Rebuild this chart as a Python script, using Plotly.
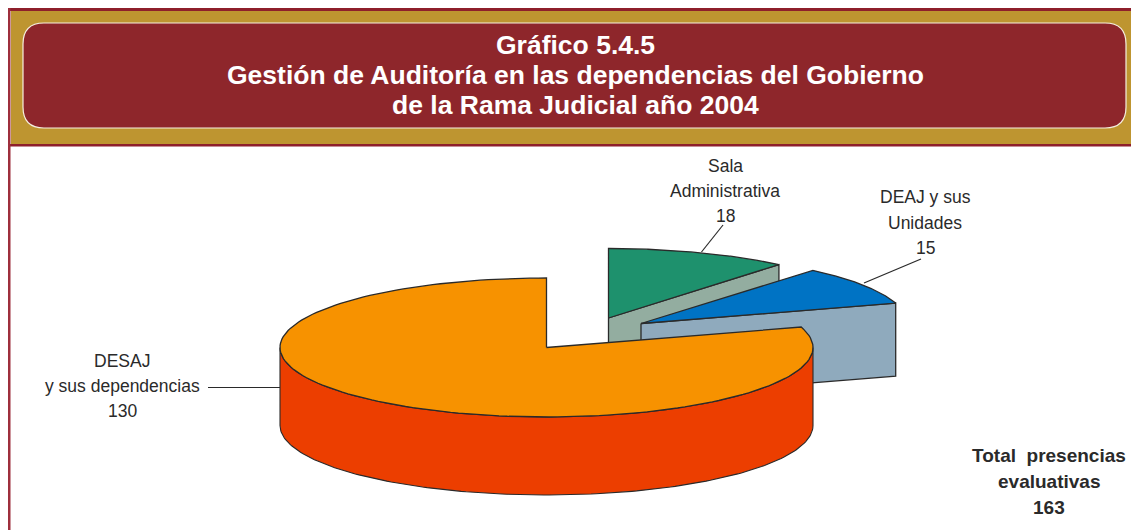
import numpy as np
import plotly.graph_objects as go

categories = ["Sala Administrativa", "DEAJ y sus Unidades", "DESAJ y sus dependencias"]
values = [18, 15, 130]
total_label = 163
title_lines = ["Gráfico 5.4.5", "Gestión de Auditoría en las dependencias del Gobierno", "de la Rama Judicial año 2004"]

W, H = 1131, 530
RX, RY = 266.5, 69.5
DEPTHS = [78, 73, 78]
OUT = "#2a2a2a"
centers = [(608.5, 318), (641, 323.5), (546.5, 347.5)]
top_col = ["#1E916D", "#0073C4", "#F79200"]
side_col = ["#93ADA0", "#8FAABD", "#EC3E00"]

total = sum(values)
edges = np.concatenate([[0], np.cumsum(values)]) / total * 2 * np.pi


def arc(c, a0, a1, dy=0, n=160):
    t = np.linspace(a0, a1, n)
    return c[0] + RX * np.sin(t), c[1] - RY * np.cos(t) + dy


fig = go.Figure()


def poly(x, y, fill, width=1.3):
    fig.add_trace(go.Scatter(x=list(x), y=list(y), mode="lines", fill="toself", fillcolor=fill,
                             line=dict(color=OUT, width=width), hoverinfo="skip", showlegend=False))


for i in range(3):
    c = centers[i]
    d = DEPTHS[i]
    a0, a1 = edges[i], edges[i + 1]
    if i < 2:
        ex, ey = arc(c, a1, a1, n=1)
        poly([c[0], ex[0], ex[0], c[0], c[0]], [c[1], ey[0], ey[0] + d, c[1] + d, c[1]], side_col[i])
    else:
        xt, yt = arc(c, np.pi / 2, 3 * np.pi / 2)
        poly(np.r_[xt, xt[::-1], xt[0]], np.r_[yt, yt[::-1] + d, yt[0]], side_col[i], 1.1)
    x, y = arc(c, a0, a1)
    poly(np.r_[c[0], x, c[0]], np.r_[c[1], y, c[1]], top_col[i])

leaders = [((701.5, 252), (723, 225)), ((864, 283), (921, 259)), ((208, 387.5), (280, 387.5))]
for (p, q) in leaders:
    fig.add_trace(go.Scatter(x=[p[0], q[0]], y=[p[1], q[1]], mode="lines", line=dict(color=OUT, width=1.2),
                             hoverinfo="skip", showlegend=False))

shapes = [
    dict(type="rect", x0=11, x1=W + 5, y0=10, y1=145, fillcolor="#BE9530", line=dict(width=0), layer="below"),
    dict(type="rect", x0=8, x1=W + 5, y0=8, y1=11, fillcolor="#8E1F2B", line=dict(width=0), layer="below"),
    dict(type="rect", x0=8, x1=W + 5, y0=144, y1=146.5, fillcolor="#8E1F2B", line=dict(width=0), layer="below"),
    dict(type="rect", x0=8, x1=10.5, y0=8, y1=H + 5, fillcolor="#9E2F3C", line=dict(width=0), layer="below"),
    dict(type="path", path="M 44 23 L 1105 23 Q 1126 23 1126 44 L 1126 107 Q 1126 128 1105 128 L 44 128 Q 23 128 23 107 L 23 44 Q 23 23 44 23 Z",
         fillcolor="#8E262B", line=dict(color="#F5EFE0", width=1.2), layer="below"),
]


def text(x, y, s, size, color="#2a2a2a", family="Liberation Sans", bold=False):
    fig.add_annotation(x=x, y=y, text=f"<b>{s}</b>" if bold else s, showarrow=False, xanchor="center", yanchor="middle",
                       font=dict(family=family, size=size, color=color))


for yy, s in zip([45, 75, 105], title_lines):
    text(575, yy, s, 26.5, "#FFFFFF", "Liberation Sans", True)

for (x, y), s in [((725, 166), "Sala"), ((725, 191), "Administrativa"), ((725, 216), str(values[0])),
                  ((925, 197), "DEAJ y sus"), ((925, 223), "Unidades"), ((925, 248), str(values[1])),
                  ((122, 361), "DESAJ"), ((122, 386), "y sus dependencias"), ((122, 411), str(values[2]))]:
    text(x, y, s, 17.5)

for (x, y), s in [((1049, 455), "Total&nbsp;&nbsp;presencias"), ((1049, 481), "evaluativas"), ((1049, 507), str(total_label))]:
    text(x, y, s, 19, bold=True)

fig.update_layout(width=W, height=H, margin=dict(l=0, r=0, t=0, b=0), paper_bgcolor="white", plot_bgcolor="white",
                  shapes=shapes, showlegend=False,
                  xaxis=dict(range=[0, W], visible=False, fixedrange=True),
                  yaxis=dict(range=[H, 0], visible=False, fixedrange=True))
fig.write_html("out.html", config=dict(displayModeBar=False),
               post_script="document.body.style.margin='0';document.documentElement.style.overflow='hidden';")
